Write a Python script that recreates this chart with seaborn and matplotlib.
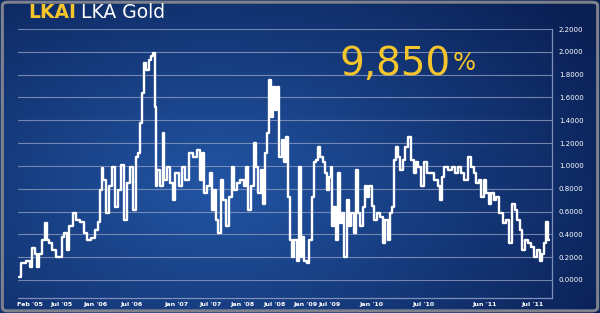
import numpy as np
import pandas as pd
import matplotlib
matplotlib.use("Agg")
import matplotlib.pyplot as plt
import seaborn as sns
from matplotlib.patches import FancyBboxPatch

# ---- data ----
period = [18, 23, 28, 30, 33, 36, 37, 40, 43, 45, 47, 50, 53, 57, 60, 62, 65, 67, 70, 74,
          77, 82, 85, 88, 93, 96, 98, 100, 102, 103, 107, 110, 113, 116, 118, 122, 125, 128, 131, 134,
          136, 138, 140, 142, 144, 147, 149, 152, 154, 155, 156, 158, 162, 163, 165, 168, 172, 173, 177, 180,
          183, 187, 190, 195, 198, 201, 203, 205, 208, 211, 213, 215, 217, 219, 222, 224, 227, 230, 233, 235,
          238, 242, 245, 247, 249, 253, 255, 257, 259, 262, 264, 266, 268, 270, 272, 273, 276, 277, 280, 283,
          285, 287, 289, 292, 293, 296, 298, 300, 302, 303, 306, 308, 311, 313, 315, 317, 319, 322, 324, 326,
          328, 330, 332, 333, 335, 337, 339, 342, 343, 346, 348, 350, 353, 355, 357, 359, 362, 364, 366, 368,
          371, 373, 376, 378, 382, 384, 387, 389, 392, 393, 395, 397, 399, 402, 404, 407, 410, 413, 415, 417,
          420, 423, 426, 429, 433, 437, 440, 442, 443, 447, 451, 454, 457, 460, 463, 467, 470, 473, 476, 478,
          481, 483, 486, 488, 491, 493, 496, 498, 502, 505, 508, 511, 514, 517, 519, 522, 524, 527, 530, 533,
          537, 539, 542, 543, 546, 548, 550]
price = [0.03, 0.15, 0.17, 0.11, 0.28, 0.23, 0.11, 0.23, 0.35, 0.50, 0.35, 0.32, 0.26, 0.20, 0.20, 0.38, 0.41, 0.26, 0.47, 0.59,
         0.53, 0.51, 0.41, 0.35, 0.37, 0.44, 0.51, 0.79, 0.98, 0.88, 0.59, 0.82, 0.99, 0.64, 0.79, 1.01, 0.53, 0.85, 0.99, 0.61,
         1.08, 1.11, 1.38, 1.64, 1.90, 1.84, 1.93, 1.96, 1.99, 1.52, 0.82, 0.96, 0.82, 1.29, 0.88, 0.99, 0.85, 0.70, 0.94, 0.82,
         0.99, 0.88, 1.11, 1.08, 1.14, 0.88, 1.11, 0.76, 0.82, 0.94, 0.61, 0.79, 0.53, 0.41, 0.88, 0.70, 0.47, 0.73, 0.99, 0.79,
         0.85, 0.88, 0.82, 0.99, 0.61, 0.82, 1.20, 0.99, 0.76, 0.96, 0.67, 1.11, 1.29, 1.75, 1.43, 1.69, 1.49, 1.69, 1.08, 1.23,
         1.03, 1.25, 0.73, 0.35, 0.20, 0.35, 0.17, 0.99, 0.20, 0.38, 0.17, 0.15, 0.35, 0.73, 1.03, 1.05, 1.17, 1.08, 1.03, 0.94,
         0.79, 0.90, 0.99, 0.47, 0.64, 0.35, 0.94, 0.50, 0.59, 0.20, 0.70, 0.47, 0.59, 0.41, 0.96, 0.59, 0.47, 0.64, 0.82, 0.73,
         0.82, 0.65, 0.53, 0.59, 0.55, 0.32, 0.53, 0.35, 0.59, 0.64, 1.05, 1.17, 1.08, 0.96, 1.05, 1.17, 1.25, 1.05, 0.94, 1.03,
         0.99, 0.82, 1.03, 0.94, 0.94, 0.88, 0.82, 0.70, 0.90, 0.99, 0.96, 0.99, 0.94, 0.99, 0.94, 0.88, 1.08, 0.99, 0.94, 0.85,
         0.88, 0.73, 0.88, 0.76, 0.67, 0.76, 0.70, 0.73, 0.59, 0.50, 0.53, 0.32, 0.67, 0.61, 0.53, 0.44, 0.26, 0.35, 0.32, 0.29,
         0.20, 0.26, 0.17, 0.23, 0.32, 0.51, 0.35]

tick_pos = [29, 61, 95, 131, 176, 210, 242, 274, 305, 330, 372, 424, 485, 533]
tick_labels = ["Feb '05", "Jul '05", "Jan '06", "Jul '06", "Jan '07", "Jul '07", "Jan '08",
               "Jul '08", "Jan '09", "Jul '09", "Jan '10", "Jul '10", "Jun '11", "Jul '11"]
y_ticks = [0.0, 0.2, 0.4, 0.6, 0.8, 1.0, 1.2, 1.4, 1.6, 1.8, 2.0, 2.2]

title_code = "LKAI"
title_name = "LKA Gold"
headline = "9,850"

df = pd.DataFrame({"period": period, "price": price})

# ---- figure ----
sns.set_theme(style="white")
plt.rcParams["font.family"] = ["DejaVu Sans"]

W, H = 600, 313
fig = plt.figure(figsize=(W / 100, H / 100), dpi=100)

# background gradient
bg = fig.add_axes([0, 0, 1, 1])
bg.set_axis_off()
gx, gy = np.meshgrid(np.linspace(0, 1, 300), np.linspace(0, 1, 160))
light = np.array([0x22, 0x55, 0xa4]) / 255
dark = np.array([0x0a, 0x20, 0x55]) / 255
d = np.sqrt(((gx - 0.36) / 0.75) ** 2 + ((gy - 0.6) / 0.9) ** 2)
t = np.clip(d, 0, 1)[..., None]
img = light * (1 - t) + dark * t
bg.imshow(img, aspect="auto", extent=[0, 1, 0, 1], origin="upper")
bg.set_xlim(0, 1)
bg.set_ylim(0, 1)
border = FancyBboxPatch((0.004, 0.007), 0.992, 0.986, boxstyle="round,pad=0,rounding_size=0.01",
                        transform=fig.transFigure, fill=False, edgecolor="#7c818c", linewidth=2.2)
fig.patches.append(border)

# main axes
left_px, right_px, top_px, bot_px = 18, 552, 29, 298
ax = fig.add_axes([left_px / W, 1 - bot_px / H, (right_px - left_px) / W, (bot_px - top_px) / H])
ax.set_facecolor("none")

sns.lineplot(data=df, x="period", y="price", ax=ax, color="white", linewidth=1.7,
             drawstyle="steps-mid", zorder=3)

ax.set_xlim(17, 553)
ax.set_ylim(-0.158, 2.2)
ax.set_yticks(y_ticks)
ax.set_yticklabels([f"{v:.4f}" for v in y_ticks])
ax.yaxis.tick_right()
ax.set_xticks(tick_pos)
ax.set_xticklabels(tick_labels)
ax.tick_params(axis="y", colors="white", labelsize=5, length=0, pad=5)
ax.tick_params(axis="x", colors="white", labelsize=4.6, length=0, pad=3)
for lab in ax.get_xticklabels():
    lab.set_fontweight("bold")
ax.set_xlabel("")
ax.set_ylabel("")
for yv in y_ticks:
    ax.axhline(yv, color="#8c9cc0", linewidth=0.8, alpha=0.8, zorder=1)
for s in ["left", "top"]:
    ax.spines[s].set_visible(False)
for s in ["bottom", "right"]:
    ax.spines[s].set_color("#7d8fba")
    ax.spines[s].set_linewidth(0.9)

# titles
yellow = "#f6c52c"
t1 = fig.text(28 / W, 1 - 12 / H, title_code, color=yellow, fontsize=13.5, fontweight="bold",
              va="center", ha="left")
fig.canvas.draw()
bb = t1.get_window_extent()
fig.text((bb.x1 + 5) / W, 1 - 12 / H, title_name, color="white", fontsize=13.5,
         va="center", ha="left")

h = fig.text(340 / W, 1 - 64 / H, headline, color=yellow, fontsize=28, va="center", ha="left")
fig.canvas.draw()
hb = h.get_window_extent()
fig.text((hb.x1 + 1) / W, 1 - 51 / H, "%", color=yellow, fontsize=17.5, va="top", ha="left")

fig.savefig("out.png", dpi=100)
